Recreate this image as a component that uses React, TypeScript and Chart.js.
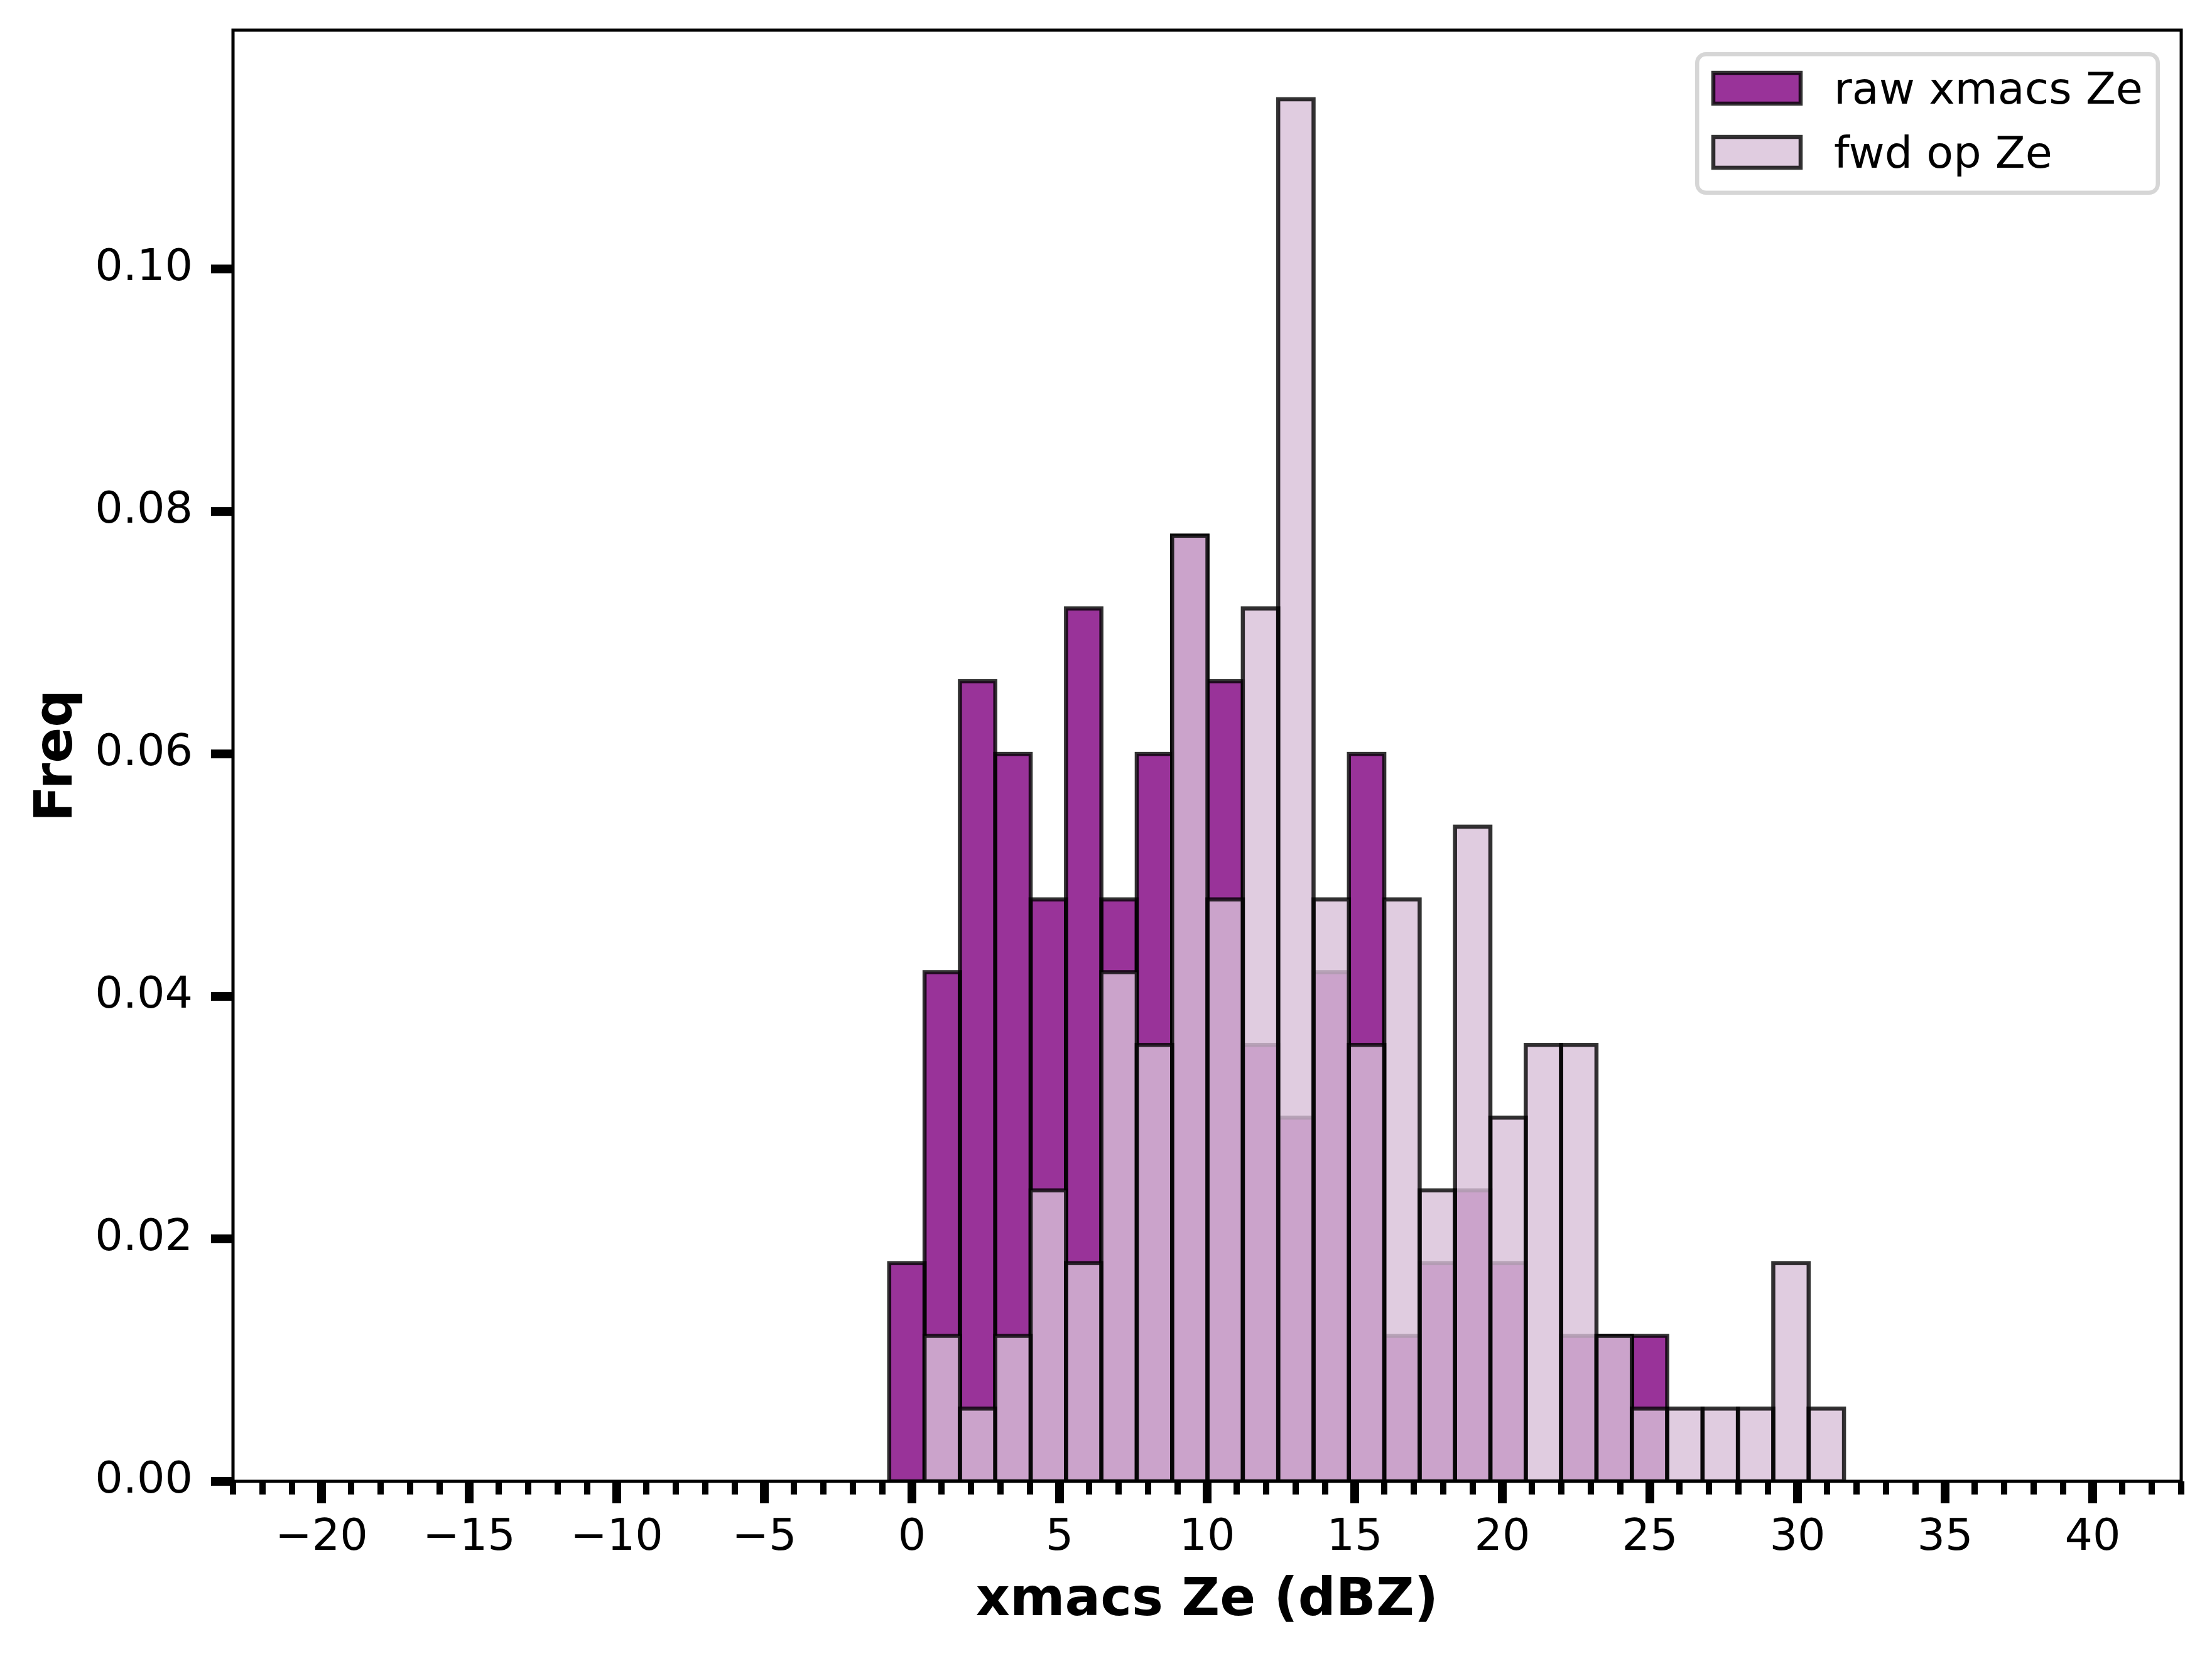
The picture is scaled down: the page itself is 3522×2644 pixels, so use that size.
import React, { useEffect, useRef } from "react";
import { Chart, registerables } from "chart.js";

Chart.register(...registerables);

// bin centres (dBZ); both histograms share the same ~1.2 dBZ bins
const binCenters = [
  -0.171, 1.027, 2.225, 3.423, 4.621, 5.819, 7.017, 8.215, 9.413, 10.611,
  11.809, 13.007, 14.205, 15.403, 16.601, 17.799, 18.997, 20.195, 21.393,
  22.591, 23.789, 24.987, 26.185, 27.383, 28.581, 29.779, 30.977,
];

// density per bin
const rawZeFreq = [
  0.018, 0.042, 0.066, 0.06, 0.048, 0.072, 0.048, 0.06, 0.078, 0.066, 0.036,
  0.03, 0.042, 0.06, 0.012, 0.018, 0.024, 0.018, 0, 0.012, 0.012, 0.012, 0, 0,
  0, 0, 0,
];
const fwdZeFreq = [
  0, 0.012, 0.006, 0.012, 0.024, 0.018, 0.042, 0.036, 0.078, 0.048, 0.072,
  0.114, 0.048, 0.036, 0.048, 0.024, 0.054, 0.03, 0.036, 0.036, 0.012, 0.006,
  0.006, 0.006, 0.006, 0.018, 0.006,
];

const seriesLabels = ["raw xmacs Ze", "fwd op Ze"];

const xRange = [-23, 43];
const yRange = [0, 0.1197];

const FONT = "'DejaVu Sans', sans-serif";
const EDGE = "rgba(0, 0, 0, 0.8)";
const EDGE_W = 6.5;

const fmtTick = (v: number) => (v < 0 ? "\u2212" + Math.abs(v) : String(v));

// matplotlib-like bar outlines, centred on the bar edges
const barEdges = {
  id: "barEdges",
  // eslint-disable-next-line @typescript-eslint/no-explicit-any
  afterDatasetDraw(chart: any, args: any) {
    const { ctx, chartArea } = chart;
    const ds = chart.data.datasets[args.index];
    ctx.save();
    ctx.beginPath();
    ctx.rect(
      chartArea.left,
      chartArea.top,
      chartArea.right - chartArea.left,
      chartArea.bottom - chartArea.top
    );
    ctx.clip();
    ctx.strokeStyle = EDGE;
    ctx.lineWidth = EDGE_W;
    // eslint-disable-next-line @typescript-eslint/no-explicit-any
    args.meta.data.forEach((bar: any, i: number) => {
      if (!ds.data[i] || ds.data[i].y === 0) return;
      const { x, y, base, width } = bar.getProps(["x", "y", "base", "width"], true);
      ctx.strokeRect(x - width / 2, y, width, base - y);
    });
    ctx.restore();
  },
};

// spines + major/minor tick marks
const axesFrame = {
  id: "axesFrame",
  // eslint-disable-next-line @typescript-eslint/no-explicit-any
  afterDraw(chart: any) {
    const { ctx, chartArea: a, scales } = chart;
    const x = scales.x;
    const y = scales.y;
    ctx.save();
    ctx.fillStyle = "#000";
    for (let v = Math.ceil(x.min); v <= Math.floor(x.max); v++) {
      const px = x.getPixelForValue(v);
      const major = v % 5 === 0;
      const w = major ? 14 : 10;
      ctx.fillRect(px - w / 2, a.bottom, w, major ? 35 : 21);
    }
    // eslint-disable-next-line @typescript-eslint/no-explicit-any
    y.ticks.forEach((t: any) => {
      const py = y.getPixelForValue(t.value);
      ctx.fillRect(a.left - 35, py - 7, 35, 14);
    });
    ctx.strokeStyle = "#000";
    ctx.lineWidth = 5;
    ctx.strokeRect(a.left, a.top, a.right - a.left, a.bottom - a.top);
    ctx.restore();
  },
};

// framed legend in the upper right corner of the axes
const boxLegend = {
  id: "boxLegend",
  // eslint-disable-next-line @typescript-eslint/no-explicit-any
  afterDraw(chart: any) {
    const { ctx, chartArea: a } = chart;
    const w = 740;
    const h = 227;
    const L = a.right - 34 - w;
    const T = a.top + 35;
    ctx.save();
    ctx.beginPath();
    ctx.roundRect(L + EDGE_W / 2, T + EDGE_W / 2, w - EDGE_W, h - EDGE_W, 14);
    ctx.fillStyle = "rgba(255, 255, 255, 0.8)";
    ctx.fill();
    ctx.strokeStyle = "rgba(204, 204, 204, 0.8)";
    ctx.lineWidth = EDGE_W;
    ctx.stroke();

    ctx.font = `70px ${FONT}`;
    ctx.textBaseline = "alphabetic";
    ctx.textAlign = "left";
    // eslint-disable-next-line @typescript-eslint/no-explicit-any
    chart.data.datasets.forEach((ds: any, i: number) => {
      const hy = T + 33 + i * 102;
      ctx.fillStyle = ds.backgroundColor;
      ctx.fillRect(L + 29, hy, 139, 49);
      ctx.strokeStyle = EDGE;
      ctx.lineWidth = EDGE_W;
      ctx.strokeRect(L + 29, hy, 139, 49);
      ctx.fillStyle = "#000";
      ctx.fillText(ds.label, L + 221, T + 82 + i * 102);
    });
    ctx.restore();
  },
};

const App = () => {
  const chartRef = useRef<HTMLCanvasElement>(null);
  const chartInstanceRef = useRef<Chart | null>(null);

  useEffect(() => {
    document.body.style.margin = "0";
    if (!chartRef.current) return;

    if (chartInstanceRef.current) {
      chartInstanceRef.current.destroy();
    }

    chartInstanceRef.current = new Chart(chartRef.current, {
      type: "bar",
      data: {
        datasets: [
          {
            label: seriesLabels[0],
            data: binCenters.map((c, i) => ({ x: c, y: rawZeFreq[i] })),
            backgroundColor: "rgba(128, 0, 128, 0.8)", // purple
            borderWidth: 0,
            inflateAmount: 0,
            grouped: false,
            categoryPercentage: 1,
            barPercentage: 1,
            order: 1,
          },
          {
            label: seriesLabels[1],
            data: binCenters.map((c, i) => ({ x: c, y: fwdZeFreq[i] })),
            backgroundColor: "rgba(216, 191, 216, 0.8)", // thistle
            borderWidth: 0,
            inflateAmount: 0,
            grouped: false,
            categoryPercentage: 1,
            barPercentage: 1,
            order: 0,
          },
        ],
      },
      options: {
        animation: false,
        responsive: true,
        maintainAspectRatio: false,
        events: [],
        layout: { padding: { top: 48, right: 49, left: 0, bottom: 0 } },
        plugins: {
          legend: { display: false },
          tooltip: { enabled: false },
        },
        scales: {
          x: {
            type: "linear",
            position: "bottom",
            min: xRange[0],
            max: xRange[1],
            offset: false,
            grid: { display: false, drawTicks: false },
            border: { display: false },
            ticks: {
              stepSize: 5,
              includeBounds: false,
              autoSkip: false,
              maxRotation: 0,
              padding: 49,
              color: "#000",
              font: { family: FONT, size: 70 },
              callback: (v) => fmtTick(Number(v)),
            },
            title: {
              display: true,
              text: "xmacs Ze (dBZ)",
              color: "#000",
              font: { family: FONT, size: 84, weight: "bold" },
              padding: { top: 0, bottom: 44.6 },
            },
            // eslint-disable-next-line @typescript-eslint/no-explicit-any
            afterFit: (scale: any) => {
              scale.height = 286;
              scale.paddingLeft = 0;
              scale.paddingRight = 0;
            },
          },
          y: {
            type: "linear",
            min: yRange[0],
            max: yRange[1],
            grid: { display: false, drawTicks: false },
            border: { display: false },
            ticks: {
              stepSize: 0.02,
              includeBounds: false,
              padding: 64,
              color: "#000",
              font: { family: FONT, size: 70 },
              callback: (v) => Number(v).toFixed(2),
            },
            title: {
              display: true,
              text: "Freq",
              color: "#000",
              font: { family: FONT, size: 84, weight: "bold" },
              padding: { top: 41.6, bottom: 0 },
            },
            // eslint-disable-next-line @typescript-eslint/no-explicit-any
            afterFit: (scale: any) => {
              scale.width = 371;
              scale.paddingTop = 0;
              scale.paddingBottom = 0;
            },
          },
        },
      },
      plugins: [barEdges, axesFrame, boxLegend],
    });

    return () => {
      if (chartInstanceRef.current) {
        chartInstanceRef.current.destroy();
        chartInstanceRef.current = null;
      }
    };
  }, []);

  return (
    <div style={{ width: "3522px", height: "2644px", position: "relative", background: "#fff" }}>
      <canvas ref={chartRef} />
    </div>
  );
};

export default App;
